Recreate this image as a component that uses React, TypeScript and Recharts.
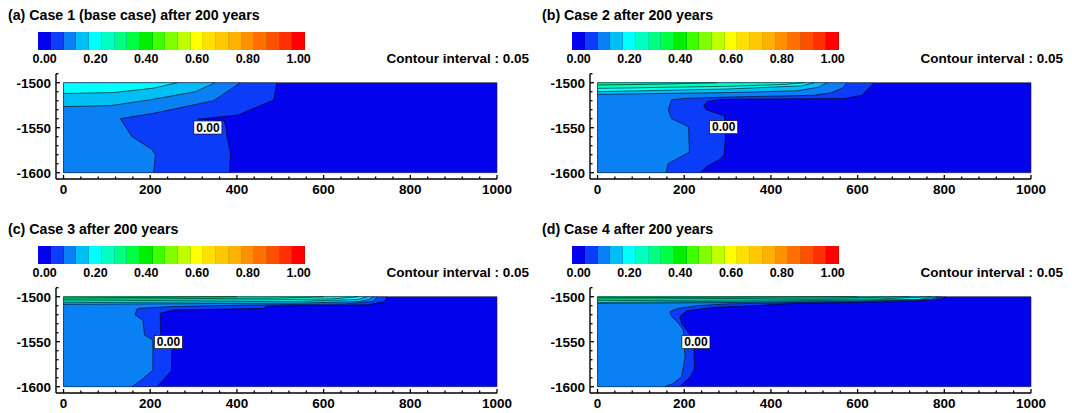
import React from "react";
import { ComposedChart, Area, XAxis, YAxis, ReferenceDot, ReferenceArea } from "recharts";

// contour fill colours, one per level 0.00 .. 1.00 (step 0.05)
const levelColors = [
  "#0202ec", "#0a3cfa", "#0a80f5", "#00bff5", "#00ffff", "#00ffc0", "#00ff80",
  "#00ff40", "#00ee00", "#40ff00", "#80ff00", "#c0ff00", "#ffff00", "#ffe000",
  "#ffc800", "#ffb000", "#ff9000", "#ff7000", "#ff5000", "#ff3000", "#ff0000",
];
const legendLabels = ["0.00", "0.20", "0.40", "0.60", "0.80", "1.00"];

const xTicks = [0, 40, 80, 120, 160, 200, 240, 280, 320, 360, 400, 440, 480, 520, 560, 600, 640, 680, 720, 760, 800, 840, 880, 920, 960, 1000];
const xMajor = [0, 200, 400, 600, 800, 1000];
const yTicks = [-1600, -1590, -1580, -1570, -1560, -1550, -1540, -1530, -1520, -1510, -1500, -1490];
const yMajor = [-1600, -1550, -1500];

// whole section (value 0.00 band)
const fullBand = [[-1500, 1000], [-1600, 1000]];

// boundaries [depth, x]: region of each level is x < boundary
const c1L1 = [[-1500, 492], [-1519, 485], [-1536, 402], [-1540.5, 310], [-1542, 370], [-1550, 375], [-1560, 377], [-1578, 385], [-1600, 383]];
const c1L2 = [[-1500, 408], [-1520, 346], [-1534, 208], [-1540, 131], [-1560, 158], [-1574, 204], [-1580, 212], [-1600, 208]];
const c1L3 = [[-1500, 350], [-1510, 304], [-1519, 200], [-1525.5, 108], [-1526.5, 0]];
const c1L4 = [[-1500, 262], [-1506, 208], [-1511, 115], [-1512, 0]];

const c2L1 = [[-1500, 638], [-1508, 622], [-1514, 610], [-1517.5, 570], [-1518.5, 282], [-1521, 254], [-1525, 245], [-1530, 250], [-1534, 275], [-1537, 293], [-1560, 295], [-1580, 292], [-1586, 280], [-1593, 252], [-1600, 237]];
const c2L2 = [[-1500, 576], [-1506, 565], [-1511, 540], [-1514, 500], [-1516, 300], [-1517.5, 200], [-1519, 171], [-1530, 163], [-1540, 171], [-1549, 210], [-1577, 212], [-1590, 163], [-1600, 158]];
const c2L3 = [[-1500, 530], [-1505, 510], [-1509, 460], [-1511, 300], [-1513, 0]];
const c2L4 = [[-1500, 500], [-1503.5, 470], [-1507, 300], [-1510, 0]];
const c2L5 = [[-1500, 476], [-1502, 430], [-1504, 300], [-1506.3, 0]];
const c2L6 = [[-1500, 275], [-1501.5, 150], [-1502.6, 0]];

const c3L1 = [[-1500, 746], [-1505.5, 740], [-1509, 700], [-1510.4, 469], [-1513, 462], [-1514.8, 254], [-1518.5, 223], [-1542, 224], [-1556, 250], [-1582, 249], [-1590, 235], [-1600, 215]];
const c3L2 = [[-1500, 723], [-1505, 715], [-1508, 650], [-1509.5, 400], [-1511, 250], [-1513, 175], [-1514, 169], [-1520, 165], [-1526, 183], [-1542.6, 187], [-1548, 206], [-1581.5, 206], [-1590.7, 185], [-1600, 158]];
const c3L3 = [[-1500, 715], [-1503, 705], [-1505.5, 680], [-1507, 550], [-1508.5, 0]];
const c3L4 = [[-1500, 700], [-1503, 680], [-1505, 550], [-1506.7, 0]];
const c3L5 = [[-1500, 680], [-1502.5, 620], [-1503.5, 450], [-1504.8, 0]];
const c3L6 = [[-1500, 600], [-1501.5, 500], [-1503, 0]];
const c3L7 = [[-1500, 400], [-1501.5, 0]];

const c4L1 = [[-1500, 803], [-1503, 792], [-1505.6, 692], [-1507.4, 460], [-1509.3, 383], [-1511.9, 268], [-1515.6, 206], [-1522, 190], [-1529.6, 194], [-1542.6, 214], [-1555.6, 222], [-1579.6, 224], [-1588.9, 214], [-1600, 189]];
const c4L2 = [[-1500, 795], [-1503, 780], [-1505, 650], [-1506.5, 450], [-1508, 300], [-1510, 230], [-1513, 185], [-1516.7, 167], [-1522, 171], [-1529.6, 187], [-1537, 198], [-1566.7, 202], [-1588.9, 194], [-1596.3, 175], [-1600, 156]];
const c4L3 = [[-1500, 790], [-1503, 770], [-1505, 600], [-1506.5, 300], [-1507.4, 0]];
const c4L4 = [[-1500, 785], [-1503, 740], [-1504.5, 450], [-1506.3, 0]];
const c4L5 = [[-1500, 770], [-1502.5, 650], [-1503.5, 400], [-1504.4, 0]];
const c4L6 = [[-1500, 720], [-1501.5, 550], [-1502.6, 0]];
const c4L7 = [[-1500, 600], [-1501.1, 0]];

const cases = [
  { title: "(a) Case 1 (base case) after 200 years", label: [333, -1549.8], levels: [c1L1, c1L2, c1L3, c1L4] },
  { title: "(b) Case 2 after 200 years", label: [291, -1549.4], levels: [c2L1, c2L2, c2L3, c2L4, c2L5, c2L6] },
  { title: "(c) Case 3 after 200 years", label: [242, -1550.4], levels: [c3L1, c3L2, c3L3, c3L4, c3L5, c3L6, c3L7] },
  { title: "(d) Case 4 after 200 years", label: [227, -1550.4], levels: [c4L1, c4L2, c4L3, c4L4, c4L5, c4L6, c4L7] },
];

const toRows = (pts: number[][]) => pts.map(([d, x]) => ({ d, x }));

const XTick = (props: any) => {
  const { x, y, payload } = props;
  const major = xMajor.includes(payload.value);
  return (
    <g>
      <line x1={x} y1={y} x2={x} y2={y - (major ? 4 : 2.5)} stroke="#000" strokeWidth={1.3} />
      {major && (
        <text x={x} y={y + 14.5} textAnchor="middle" fontSize={13.5} fontWeight="bold" fill="#000">
          {payload.value}
        </text>
      )}
    </g>
  );
};

const YTick = (props: any) => {
  const { x, y, payload } = props;
  const major = yMajor.includes(payload.value);
  return (
    <g>
      <line x1={x} y1={y} x2={x + (major ? 4 : 2.5)} y2={y} stroke="#000" strokeWidth={1.3} />
      {major && (
        <text x={x - 5} y={y + 4.8} textAnchor="end" fontSize={13.5} fontWeight="bold" fill="#000">
          {payload.value}
        </text>
      )}
    </g>
  );
};

const ValueLabel = (props: any) => {
  const { cx, cy } = props;
  return (
    <g>
      <rect x={cx - 14} y={cy - 6.5} width={28} height={13} fill="#fff" stroke="#000" strokeWidth={0.6} />
      <text x={cx} y={cy + 4.3} textAnchor="middle" fontSize={12} fontWeight="bold" fill="#000">0.00</text>
    </g>
  );
};

function ColorBar() {
  const cellW = 266.7 / levelColors.length;
  return (
    <>
      <div style={{ position: "absolute", left: 38.3, top: 32.3, width: 266.7, height: 17.7, display: "flex" }}>
        {levelColors.map((c, i) => (
          <div key={i} style={{ flex: 1, background: c, boxShadow: "inset -0.5px 0 0 rgba(0,0,0,0.25)" }} />
        ))}
      </div>
      {legendLabels.map((t, i) => (
        <div
          key={t}
          style={{
            position: "absolute",
            left: 38.3 + (i * 4 + 0.5) * cellW - 20,
            width: 40,
            top: 51.5,
            textAlign: "center",
            fontSize: 12.5,
            fontWeight: "bold",
          }}
        >
          {t}
        </div>
      ))}
      <div style={{ position: "absolute", right: 536 - 529, top: 51, fontSize: 13.5, fontWeight: "bold", whiteSpace: "nowrap" }}>
        Contour interval : 0.05
      </div>
    </>
  );
}

function Panel({ c, left, top }: { c: (typeof cases)[number]; left: number; top: number }) {
  return (
    <div style={{ position: "absolute", left, top, width: 536, height: 214 }}>
      <div style={{ position: "absolute", left: 8, top: 6.5, fontSize: 14.2, fontWeight: "bold", whiteSpace: "nowrap" }}>{c.title}</div>
      <ColorBar />
      <div style={{ position: "absolute", left: 0, top: 0 }}>
        <ComposedChart width={536} height={214} layout="vertical" margin={{ top: 73.7, right: 39, bottom: 10, left: 6 }}>
          <XAxis
            type="number"
            domain={[-17.4, 1000]}
            allowDataOverflow
            ticks={xTicks}
            interval={0}
            tick={<XTick />}
            tickLine={false}
            tickSize={0}
            tickMargin={0}
            height={25}
            axisLine={{ stroke: "#000", strokeWidth: 1.4 }}
          />
          <YAxis
            type="number"
            dataKey="d"
            domain={[-1607, -1490]}
            allowDataOverflow
            reversed
            ticks={yTicks}
            interval={0}
            tick={<YTick />}
            tickLine={false}
            tickSize={0}
            tickMargin={0}
            width={50}
            axisLine={{ stroke: "#000", strokeWidth: 1.4 }}
          />
          <Area
            data={toRows(fullBand)}
            dataKey="x"
            type="linear"
            baseValue={0}
            fill={levelColors[0]}
            fillOpacity={1}
            stroke="none"
            dot={false}
            activeDot={false}
            isAnimationActive={false}
          />
          {c.levels.map((pts, i) => (
            <Area
              key={i}
              data={toRows(pts)}
              dataKey="x"
              type="linear"
              baseValue={0}
              fill={levelColors[i + 1]}
              fillOpacity={1}
              stroke="#000"
              strokeWidth={0.6}
              dot={false}
              activeDot={false}
              isAnimationActive={false}
            />
          ))}
          <ReferenceArea x1={0} x2={1000} y1={-1600} y2={-1500} fill="none" fillOpacity={0} stroke="#222" strokeWidth={0.6} ifOverflow="visible" />
          <ReferenceDot x={c.label[0]} y={c.label[1]} r={0} shape={<ValueLabel />} ifOverflow="visible" />
        </ComposedChart>
      </div>
    </div>
  );
}

export default function App() {
  return (
    <div
      style={{
        position: "absolute",
        left: 0,
        top: 0,
        width: 1072,
        height: 413,
        background: "#fff",
        fontFamily: "'Liberation Sans', Arial, sans-serif",
        color: "#000",
      }}
    >
      <Panel c={cases[0]} left={0} top={0} />
      <Panel c={cases[1]} left={534} top={0} />
      <Panel c={cases[2]} left={0} top={214} />
      <Panel c={cases[3]} left={534} top={214} />
    </div>
  );
}
